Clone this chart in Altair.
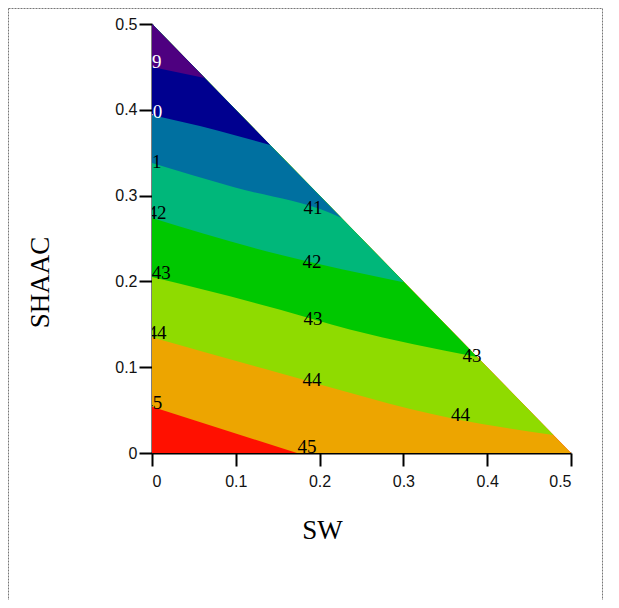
import altair as alt
import pandas as pd

# Contour band boundaries (lower edge of each band)
b45_x = [0.0, 0.173, 0.5]
b45_y = [0.054, 0.0, 0.0]
b44_x = [0.0, 0.153, 0.360, 0.479]
b44_y = [0.135, 0.093, 0.040, 0.021]
b43_x = [0.0, 0.153, 0.236, 0.388]
b43_y = [0.205, 0.167, 0.144, 0.112]
b42_x = [0.0, 0.153, 0.300]
b42_y = [0.274, 0.231, 0.199]
b41_x = [0.0, 0.097, 0.212, 0.226]
b41_y = [0.338, 0.310, 0.280, 0.274]
b40_x = [0.0, 0.078, 0.141]
b40_y = [0.394, 0.376, 0.359]
b39_x = [0.0, 0.063]
b39_y = [0.450, 0.437]
base_x = [0.0, 0.5]
base_y = [0.0, 0.0]

band_colors = ["#ff1000", "#eda500", "#8fdb00", "#00c800", "#00b77a",
               "#0070a0", "#00008f", "#4e0080"]
band_interp = ["linear", "linear", "monotone", "monotone", "monotone",
               "monotone", "monotone", "linear"]
bands = [(base_x, base_y), (b45_x, b45_y), (b44_x, b44_y), (b43_x, b43_y),
         (b42_x, b42_y), (b41_x, b41_y), (b40_x, b40_y), (b39_x, b39_y)]

label_text = ["39", "40", "41", "42", "43", "44", "45",
              "41", "42", "43", "44", "45", "43", "44"]
label_x = [0.0, 0.001, 0.0, 0.006, 0.011, 0.006, 0.001,
           0.192, 0.191, 0.192, 0.191, 0.185, 0.382, 0.368]
label_y = [0.456, 0.397, 0.339, 0.280, 0.210, 0.140, 0.058,
           0.286, 0.223, 0.156, 0.085, 0.007, 0.113, 0.044]
label_col = ["white", "white", "black", "black", "black", "black", "black",
             "black", "black", "black", "black", "black", "black", "black"]

tick_vals = [0, 0.1, 0.2, 0.3, 0.4, 0.5]

xscale = alt.Scale(domain=[0, 0.5], nice=False, zero=False)
yscale = alt.Scale(domain=[0, 0.5], nice=False, zero=False)

axis_common = dict(values=tick_vals, format="~g", grid=False,
                   domainColor="black", domainWidth=2,
                   tickColor="black", tickWidth=2, tickSize=13,
                   labelFont="Liberation Sans", labelFontSize=16,
                   labelColor="#111",
                   titleFont="Liberation Serif", titleFontSize=27,
                   titleFontWeight="normal", titleColor="black",
                   titleBaseline="middle", titleAlign="center")
x_axis = alt.Axis(title="SW", labelPadding=7, titleX=170, titleY=77,
                  titleAngle=0, **axis_common)
y_axis = alt.Axis(title="SHAAC", labelPadding=2, titleX=-112, titleY=258,
                  titleAngle=-90, **axis_common)

layers = []
for (bx, by), col, ip in zip(bands, band_colors, band_interp):
    df = pd.DataFrame({"x": bx, "y": by})
    layer = alt.Chart(df).transform_calculate(top="0.5 - datum.x").mark_area(
        color=col, interpolate=ip, clip=True
    ).encode(x=alt.X("x:Q", scale=xscale, axis=x_axis),
             y=alt.Y("y:Q", scale=yscale, axis=y_axis),
             y2="top:Q")
    layers.append(layer)

labels_df = pd.DataFrame({"t": label_text, "x": label_x, "y": label_y,
                          "c": label_col})
text = alt.Chart(labels_df).mark_text(
    font="Liberation Serif", fontSize=19, clip=True, align="center",
    baseline="middle"
).encode(x=alt.X("x:Q", scale=xscale, axis=x_axis),
         y=alt.Y("y:Q", scale=yscale, axis=y_axis),
         text="t:N", color=alt.Color("c:N", scale=None))
layers.append(text)

# dotted page frame (top, left, right edges)
frame_style = dict(stroke="#777777", strokeDash=[2, 1], strokeWidth=1)
one = pd.DataFrame({"a": [0]})
top_edge = alt.Chart(one).mark_rule(**frame_style).encode(
    x=alt.value(-143.5), x2=alt.value(450.5), y=alt.value(-15.5))
left_edge = alt.Chart(one).mark_rule(**frame_style).encode(
    x=alt.value(-143.5), y=alt.value(-15.5), y2=alt.value(576))
right_edge = alt.Chart(one).mark_rule(**frame_style).encode(
    x=alt.value(450.5), y=alt.value(-15.5), y2=alt.value(576))
layers += [top_edge, left_edge, right_edge]

chart = alt.layer(*layers).properties(
    width=419, height=429,
    autosize=alt.AutoSizeParams(type="none"),
    padding={"left": 144, "top": 16, "right": 40, "bottom": 147},
).configure_view(stroke=None)

chart.save("out.html", embed_options={"renderer": "svg", "actions": False})
